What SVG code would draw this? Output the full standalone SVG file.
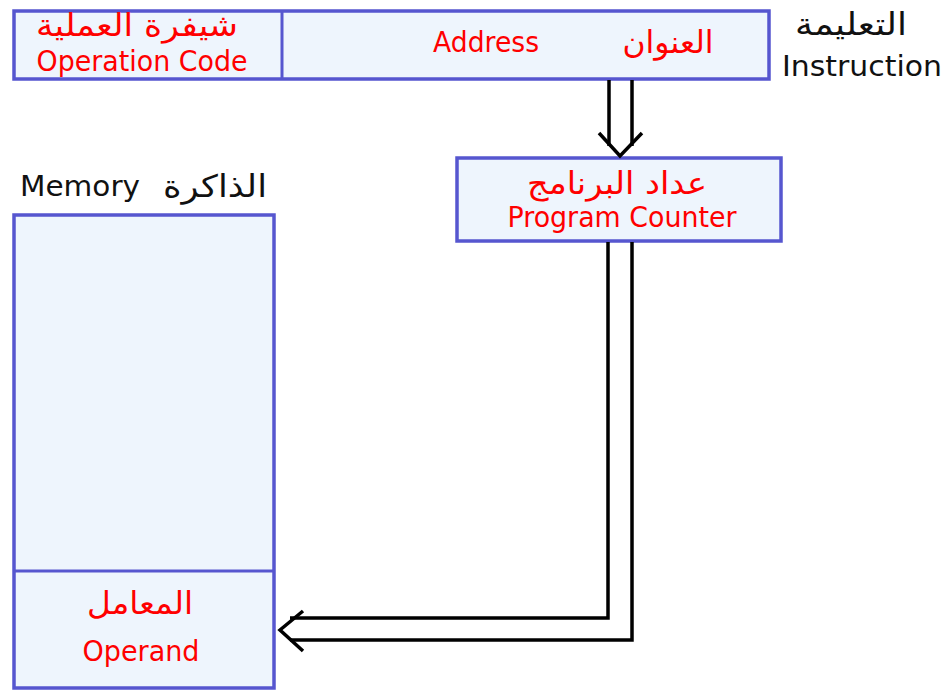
<svg xmlns="http://www.w3.org/2000/svg" width="947" height="690" viewBox="0 0 947 690">
  <defs>
    <style>
      .box { fill: #eef5fd; stroke: #5656cf; stroke-width: 3.5; }
      .div { fill: none; stroke: #5656cf; stroke-width: 3; }
      .red { fill: #ff0000; font-family: "DejaVu Sans", "Liberation Sans", sans-serif; font-size: 28px; text-anchor: middle; }
      .blk { fill: #111111; font-family: "DejaVu Sans", "Liberation Sans", sans-serif; font-size: 28px; text-anchor: middle; }
      .ar { font-size: 31px; }
      .wire { fill: none; stroke: #000000; stroke-width: 3.5; stroke-linejoin: miter; }
    </style>
  </defs>
  <rect width="947" height="690" fill="#ffffff"/>

  <!-- Instruction register: opcode | address -->
  <g id="instruction">
    <rect class="box" x="14" y="11" width="755" height="68"/>
    <line class="div" x1="282" y1="11" x2="282" y2="79"/>
    <text class="red ar" x="137" y="36" textLength="202" lengthAdjust="spacingAndGlyphs">شيفرة العملية</text>
    <text class="red" x="142" y="71" textLength="211" lengthAdjust="spacingAndGlyphs">Operation Code</text>
    <text class="red" x="486" y="52" textLength="106" lengthAdjust="spacingAndGlyphs">Address</text>
    <text class="red ar" x="668" y="53" textLength="91" lengthAdjust="spacingAndGlyphs">العنوان</text>
    <text class="blk ar" x="851" y="35" textLength="112" lengthAdjust="spacingAndGlyphs">التعليمة</text>
    <text class="blk" x="862" y="76" font-size="31" textLength="160" lengthAdjust="spacingAndGlyphs">Instruction</text>
  </g>

  <!-- Program counter -->
  <g id="program-counter">
    <rect class="box" x="457" y="158" width="324" height="83"/>
    <text class="red ar" x="617" y="194" textLength="180" lengthAdjust="spacingAndGlyphs">عداد البرنامج</text>
    <text class="red" x="622" y="227" textLength="229" lengthAdjust="spacingAndGlyphs">Program Counter</text>
  </g>

  <!-- Memory with operand cell -->
  <g id="memory">
    <rect class="box" x="14" y="215" width="260" height="473"/>
    <line class="div" x1="14" y1="571" x2="274" y2="571"/>
    <text class="blk" x="80" y="196" textLength="120" lengthAdjust="spacingAndGlyphs">Memory</text>
    <text class="blk ar" x="215" y="197" textLength="104" lengthAdjust="spacingAndGlyphs">الذاكرة</text>
  </g>

  <g id="operand">
    <text class="red ar" x="140" y="614" textLength="106" lengthAdjust="spacingAndGlyphs">المعامل</text>
    <text class="red" x="141" y="661" textLength="117" lengthAdjust="spacingAndGlyphs">Operand</text>
  </g>

  <!-- Double-line connectors -->
  <g id="connectors">
    <!-- address -> program counter -->
    <line class="wire" x1="609" y1="80" x2="609" y2="146"/>
    <line class="wire" x1="632" y1="80" x2="632" y2="146"/>
    <polyline class="wire" points="599,133 620,156 642,133"/>
    <!-- program counter -> operand -->
    <polyline class="wire" points="608,242 608,618 290,618"/>
    <polyline class="wire" points="632,242 632,640 290,640"/>
    <polyline class="wire" points="303,611 280,630 303,651"/>
  </g>
</svg>
